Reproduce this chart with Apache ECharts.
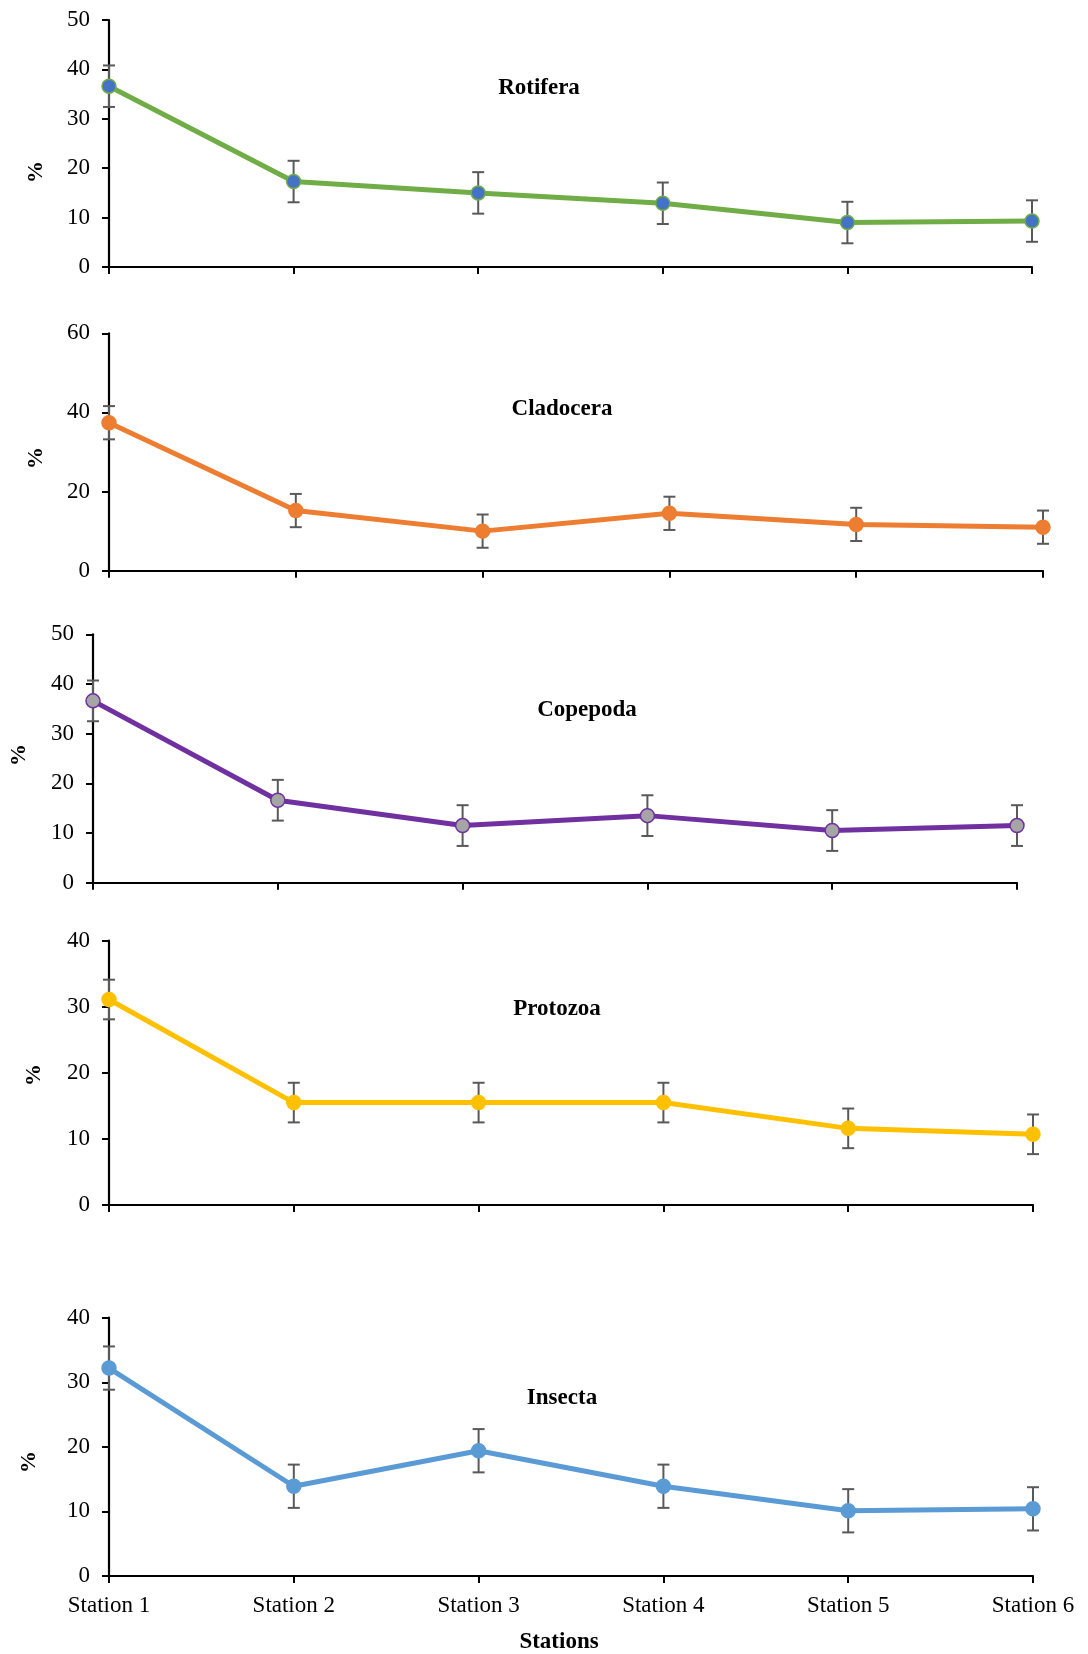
<!DOCTYPE html>
<html>
<head>
<meta charset="utf-8">
<script src="https://cdn.jsdelivr.net/npm/echarts@6/dist/echarts.min.js"></script>
<style>
html,body{margin:0;padding:0;background:#fff;}
#chart{width:1088px;height:1654px;}
</style>
</head>
<body>
<div id="chart"></div>
<script>
// ---- data ----
const stations = ['Station 1', 'Station 2', 'Station 3', 'Station 4', 'Station 5', 'Station 6'];
const panelNames = ['Rotifera', 'Cladocera', 'Copepoda', 'Protozoa', 'Insecta'];

const rotifera    = [36.6, 17.3, 15.0, 12.9, 9.0, 9.3];
const rotiferaErr = [4.2, 4.2, 4.2, 4.2, 4.2, 4.2];

const cladocera    = [37.4, 15.2, 10.0, 14.5, 11.7, 11.0];
const cladoceraErr = [4.2, 4.2, 4.2, 4.2, 4.2, 4.2];

const copepoda    = [36.6, 16.6, 11.5, 13.5, 10.5, 11.5];
const copepodaErr = [4.1, 4.1, 4.1, 4.1, 4.1, 4.1];

const protozoa    = [31.1, 15.5, 15.5, 15.5, 11.6, 10.7];
const protozoaErr = [3.0, 3.0, 3.0, 3.0, 3.0, 3.0];

const insecta    = [32.2, 13.9, 19.4, 13.9, 10.1, 10.4];
const insectaErr = [3.35, 3.35, 3.35, 3.35, 3.35, 3.35];

const yMax = [50, 60, 50, 40, 40];
const yInterval = [10, 20, 10, 10, 10];

// ---- layout / style ----
const FONT = 'Liberation Serif';
const grids = [
  {left:109, top:20,    width:923, height:247},
  {left:109, top:333.3, width:934, height:237.4},
  {left:93,  top:634.3, width:924, height:248.4},
  {left:109, top:940.7, width:924, height:264.3},
  {left:109, top:1317.7,width:924, height:258.3}
];
const lineColors   = ['#70AD47', '#ED7D31', '#7030A0', '#FFC000', '#5B9BD5'];
const markerFill   = ['#4472C4', '#ED7D31', '#A5A5A5', '#FFC000', '#5B9BD5'];
const markerBorder = ['#70AD47', '#ED7D31', '#7030A0', '#FFC000', '#5B9BD5'];
const titlePos = [[539,88],[562,409.5],[587,710.5],[557,1009.5],[562,1398]];
const pctPos = [[36,172],[36,458],[19,755],[34,1075],[29,1462]];

const values = [rotifera, cladocera, copepoda, protozoa, insecta];
const errors = [rotiferaErr, cladoceraErr, copepodaErr, protozoaErr, insectaErr];

const xAxes = [], yAxes = [], series = [], graphics = [];
for (let p = 0; p < 5; p++) {
  const last = p === 4;
  xAxes.push({
    type:'category', gridIndex:p, data:stations, boundaryGap:false,
    axisLine:{lineStyle:{color:'#000', width:2.2}},
    axisTick:{show:true, length:7, lineStyle:{color:'#000', width:2}},
    axisLabel:{show:last, color:'#000', fontFamily:FONT, fontSize:23, margin:18, interval:0},
    splitLine:{show:false}
  });
  yAxes.push({
    type:'value', gridIndex:p, min:0, max:yMax[p], interval:yInterval[p],
    axisLine:{show:true, lineStyle:{color:'#000', width:2.2}},
    axisTick:{show:true, length:7, lineStyle:{color:'#000', width:2}},
    axisLabel:{color:'#000', fontFamily:FONT, fontSize:23, margin:19},
    splitLine:{show:false}
  });
  const errData = stations.map((s, i) => [i, values[p][i], errors[p][i]]);
  series.push({
    type:'custom', xAxisIndex:p, yAxisIndex:p, z:2, silent:true,
    data: errData,
    renderItem: function(params, api){
      const x = api.value(0), y = api.value(1), e = api.value(2);
      const t = api.coord([x, y + e]);
      const b = api.coord([x, y - e]);
      const hw = 6;
      const st = {stroke:'#595959', lineWidth:2};
      return {type:'group', children:[
        {type:'line', shape:{x1:t[0], y1:t[1], x2:b[0], y2:b[1]}, style:st},
        {type:'line', shape:{x1:t[0]-hw, y1:t[1], x2:t[0]+hw, y2:t[1]}, style:st},
        {type:'line', shape:{x1:b[0]-hw, y1:b[1], x2:b[0]+hw, y2:b[1]}, style:st}
      ]};
    }
  });
  series.push({
    type:'line', name:panelNames[p], xAxisIndex:p, yAxisIndex:p, z:3,
    data: values[p],
    symbol:'circle', symbolSize:14,
    lineStyle:{color:lineColors[p], width:5},
    itemStyle:{color:markerFill[p], borderColor:markerBorder[p], borderWidth:1.5},
    emphasis:{disabled:true}
  });
  graphics.push({
    type:'text', x:titlePos[p][0], y:titlePos[p][1],
    style:{text:panelNames[p], fill:'#000', fontFamily:FONT, fontWeight:'bold', fontSize:23, textAlign:'center', textVerticalAlign:'middle'}
  });
  graphics.push({
    type:'text', x:pctPos[p][0], y:pctPos[p][1], rotation:Math.PI/2,
    style:{text:'%', fill:'#000', fontFamily:FONT, fontWeight:'bold', fontSize:22, textAlign:'center', textVerticalAlign:'middle'}
  });
}
graphics.push({
  type:'text', x:559, y:1642,
  style:{text:'Stations', fill:'#000', fontFamily:FONT, fontWeight:'bold', fontSize:23, textAlign:'center', textVerticalAlign:'middle'}
});

const chart = echarts.init(document.getElementById('chart'));
chart.setOption({
  animation:false,
  backgroundColor:'#fff',
  grid: grids,
  xAxis: xAxes,
  yAxis: yAxes,
  series: series,
  graphic: graphics
});
</script>
</body>
</html>
